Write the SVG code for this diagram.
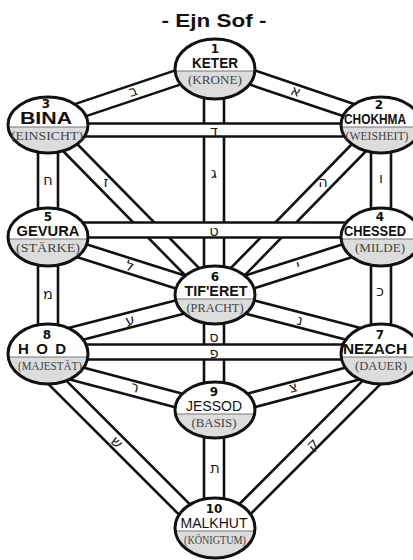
<svg xmlns="http://www.w3.org/2000/svg" width="413" height="560" viewBox="0 0 413 560">
<style>
.vb{stroke:#111;stroke-width:22.6;fill:none}
.vw{stroke:#fff;stroke-width:17.4;fill:none}
.db{stroke:#111;stroke-width:17.6;fill:none}
.dw{stroke:#fff;stroke-width:12.4;fill:none}
.heb{font-family:"DejaVu Sans",sans-serif;font-size:14.5px;fill:#1a1a1a;text-anchor:middle;dominant-baseline:central}
.nw{fill:#fff;stroke:none}
.ng{fill:#dcdcdc;stroke:none}
.nd{stroke:#777;stroke-width:1.2}
.no{fill:none;stroke:#111;stroke-width:3}
.num{font-family:"DejaVu Sans",sans-serif;font-weight:bold;font-size:12px;fill:#111;text-anchor:middle}
.name{font-family:"Liberation Sans",sans-serif;font-weight:bold;font-size:14px;fill:#111;text-anchor:middle}
.sub{font-family:"Liberation Serif",serif;font-size:11.5px;fill:#444;text-anchor:middle}
.title{font-family:"Liberation Sans",sans-serif;font-weight:bold;font-size:19px;fill:#111;text-anchor:middle}
</style>
<rect width="413" height="560" fill="#fff"/>
<text class="title" x="214" y="27" textLength="105" lengthAdjust="spacingAndGlyphs">- Ejn Sof -</text>
<g id="connectors">
 <g id="bars-black">
  <line class="vb" x1="214" y1="69" x2="214" y2="295"/>
  <line class="vb" x1="214" y1="295" x2="214" y2="410"/>
  <line class="vb" x1="214" y1="410" x2="214" y2="528"/>
  <line class="vb" x1="48" y1="125" x2="48" y2="237"/>
  <line class="vb" x1="48" y1="237" x2="48" y2="354"/>
  <line class="vb" x1="381" y1="125" x2="381" y2="237"/>
  <line class="vb" x1="381" y1="237" x2="381" y2="354"/>
  <line class="db" x1="215" y1="65" x2="48" y2="121"/>
  <line class="db" x1="215" y1="65" x2="381" y2="121"/>
  <line class="db" x1="48" y1="125" x2="215" y2="295"/>
  <line class="db" x1="381" y1="125" x2="215" y2="295"/>
  <line class="db" x1="48" y1="240" x2="215" y2="293"/>
  <line class="db" x1="381" y1="240" x2="215" y2="293"/>
  <line class="db" x1="48" y1="341" x2="215" y2="298"/>
  <line class="db" x1="381" y1="341" x2="215" y2="298"/>
  <line class="db" x1="48" y1="366" x2="215" y2="410"/>
  <line class="db" x1="381" y1="366" x2="215" y2="410"/>
  <line class="db" x1="35" y1="360" x2="200" y2="525"/>
  <line class="db" x1="394" y1="360" x2="229" y2="525"/>
 </g>
 <g id="bars-white">
  <line class="vw" x1="214" y1="69" x2="214" y2="295"/>
  <line class="vw" x1="214" y1="295" x2="214" y2="410"/>
  <line class="vw" x1="214" y1="410" x2="214" y2="528"/>
  <line class="vw" x1="48" y1="125" x2="48" y2="237"/>
  <line class="vw" x1="48" y1="237" x2="48" y2="354"/>
  <line class="vw" x1="381" y1="125" x2="381" y2="237"/>
  <line class="vw" x1="381" y1="237" x2="381" y2="354"/>
  <line class="dw" x1="215" y1="65" x2="48" y2="121"/>
  <line class="dw" x1="215" y1="65" x2="381" y2="121"/>
  <line class="dw" x1="48" y1="125" x2="215" y2="295"/>
  <line class="dw" x1="381" y1="125" x2="215" y2="295"/>
  <line class="dw" x1="48" y1="240" x2="215" y2="293"/>
  <line class="dw" x1="381" y1="240" x2="215" y2="293"/>
  <line class="dw" x1="48" y1="341" x2="215" y2="298"/>
  <line class="dw" x1="381" y1="341" x2="215" y2="298"/>
  <line class="dw" x1="48" y1="366" x2="215" y2="410"/>
  <line class="dw" x1="381" y1="366" x2="215" y2="410"/>
  <line class="dw" x1="35" y1="360" x2="200" y2="525"/>
  <line class="dw" x1="394" y1="360" x2="229" y2="525"/>
 </g>
 <g id="bars-horizontal">
  <line class="db" x1="48" y1="130" x2="381" y2="130" style="stroke-width:15.6"/>
  <line class="dw" x1="48" y1="130" x2="381" y2="130" style="stroke-width:10.4"/>
  <line class="db" x1="48" y1="230" x2="381" y2="230"/>
  <line class="dw" x1="48" y1="230" x2="381" y2="230"/>
  <line class="db" x1="48" y1="352" x2="381" y2="352"/>
  <line class="dw" x1="48" y1="352" x2="381" y2="352"/>
 </g>
 <g id="path-letters">
  <text class="heb" transform="translate(133,91) rotate(-18)">ב</text>
  <text class="heb" transform="translate(296,91) rotate(18)">א</text>
  <text class="heb" x="214" y="131">ד</text>
  <text class="heb" x="214" y="173">ג</text>
  <text class="heb" x="106" y="182">ז</text>
  <text class="heb" x="323" y="182">ה</text>
  <text class="heb" x="48" y="180">ח</text>
  <text class="heb" x="381" y="178">ו</text>
  <text class="heb" x="214" y="231">ט</text>
  <text class="heb" transform="translate(130,266) rotate(17)">ל</text>
  <text class="heb" transform="translate(298,265) rotate(-17)">י</text>
  <text class="heb" x="48" y="294">מ</text>
  <text class="heb" x="380" y="291">כ</text>
  <text class="heb" transform="translate(130,320) rotate(-14)">ע</text>
  <text class="heb" transform="translate(300,320) rotate(14)">נ</text>
  <text class="heb" x="214" y="337">ס</text>
  <text class="heb" x="214" y="353">פ</text>
  <text class="heb" transform="translate(135,387) rotate(15)">ר</text>
  <text class="heb" transform="translate(293,387) rotate(-15)">צ</text>
  <text class="heb" transform="translate(117,442) rotate(45)">ש</text>
  <text class="heb" transform="translate(312,444) rotate(-45)">ק</text>
  <text class="heb" x="215" y="468">ת</text>
 </g>
</g>
<g id="keter">
 <ellipse class="nw" cx="215" cy="69" rx="40" ry="30"/>
 <path class="ng" d="M175.09,71 A40,30 0 0 0 254.91,71 Z"/>
 <line class="nd" x1="175.09" y1="71" x2="254.91" y2="71"/>
 <ellipse class="no" cx="215" cy="69" rx="40" ry="30"/>
 <text class="num" x="215" y="52.5">1</text>
 <text class="name" x="215" y="68" textLength="46" lengthAdjust="spacingAndGlyphs">KETER</text>
 <text class="sub" x="215" y="83.5" textLength="54" lengthAdjust="spacingAndGlyphs">(KRONE)</text>
</g>
<g id="bina">
 <ellipse class="nw" cx="48" cy="125" rx="40" ry="28"/>
 <path class="ng" d="M8.1,127 A40,28 0 0 0 87.9,127 Z"/>
 <line class="nd" x1="8.1" y1="127" x2="87.9" y2="127"/>
 <ellipse class="no" cx="48" cy="125" rx="40" ry="28"/>
 <text class="num" x="46" y="107.5">3</text>
 <text class="name" x="46" y="124" style="font-size:16px" textLength="52" lengthAdjust="spacingAndGlyphs">BINA</text>
 <text class="sub" x="47" y="139.5" textLength="72" lengthAdjust="spacingAndGlyphs">(EINSICHT)</text>
</g>
<g id="chokhma">
 <ellipse class="nw" cx="381" cy="125" rx="40" ry="28"/>
 <path class="ng" d="M341.1,127 A40,28 0 0 0 420.9,127 Z"/>
 <line class="nd" x1="341.1" y1="127" x2="420.9" y2="127"/>
 <ellipse class="no" cx="381" cy="125" rx="40" ry="28"/>
 <text class="num" x="379" y="108.5">2</text>
 <text class="name" x="375" y="124" textLength="62" lengthAdjust="spacingAndGlyphs">CHOKHMA</text>
 <text class="sub" x="377" y="139.5" textLength="63" lengthAdjust="spacingAndGlyphs">(WEISHEIT)</text>
</g>
<g id="gevura">
 <ellipse class="nw" cx="48" cy="237" rx="40" ry="29"/>
 <path class="ng" d="M8.1,239 A40,29 0 0 0 87.9,239 Z"/>
 <line class="nd" x1="8.1" y1="239" x2="87.9" y2="239"/>
 <ellipse class="no" cx="48" cy="237" rx="40" ry="29"/>
 <text class="num" x="48" y="220.5">5</text>
 <text class="name" x="48" y="236" style="font-size:15px" textLength="63" lengthAdjust="spacingAndGlyphs">GEVURA</text>
 <text class="sub" x="48" y="251.5" textLength="64" lengthAdjust="spacingAndGlyphs">(STÄRKE)</text>
</g>
<g id="chessed">
 <ellipse class="nw" cx="381" cy="237" rx="40" ry="29"/>
 <path class="ng" d="M341.1,239 A40,29 0 0 0 420.9,239 Z"/>
 <line class="nd" x1="341.1" y1="239" x2="420.9" y2="239"/>
 <ellipse class="no" cx="381" cy="237" rx="40" ry="29"/>
 <text class="num" x="380" y="220.5">4</text>
 <text class="name" x="375" y="236" style="font-size:15px" textLength="62" lengthAdjust="spacingAndGlyphs">CHESSED</text>
 <text class="sub" x="380" y="251.5" textLength="50" lengthAdjust="spacingAndGlyphs">(MILDE)</text>
</g>
<g id="tiferet">
 <ellipse class="nw" cx="215" cy="295" rx="40" ry="29"/>
 <path class="ng" d="M175.38,299 A40,29 0 0 0 254.62,299 Z"/>
 <line class="nd" x1="175.38" y1="299" x2="254.62" y2="299"/>
 <ellipse class="no" cx="215" cy="295" rx="40" ry="29"/>
 <text class="num" x="215" y="280.5">6</text>
 <text class="name" x="216" y="296" textLength="63" lengthAdjust="spacingAndGlyphs">TIF'ERET</text>
 <text class="sub" x="215" y="311.5" textLength="57" lengthAdjust="spacingAndGlyphs">(PRACHT)</text>
</g>
<g id="hod">
 <ellipse class="nw" cx="48" cy="354" rx="40" ry="30"/>
 <path class="ng" d="M8.2,357 A40,30 0 0 0 87.8,357 Z"/>
 <line class="nd" x1="8.2" y1="357" x2="87.8" y2="357"/>
 <ellipse class="no" cx="48" cy="354" rx="40" ry="30"/>
 <text class="num" x="47" y="338.5">8</text>
 <text class="name" x="45" y="354" style="font-size:15px;letter-spacing:6px" textLength="54" lengthAdjust="spacing">HOD</text>
 <text class="sub" x="50" y="369.5" textLength="64" lengthAdjust="spacingAndGlyphs">(MAJESTÄT)</text>
</g>
<g id="nezach">
 <ellipse class="nw" cx="381" cy="354" rx="40" ry="30"/>
 <path class="ng" d="M341.2,357 A40,30 0 0 0 420.8,357 Z"/>
 <line class="nd" x1="341.2" y1="357" x2="420.8" y2="357"/>
 <ellipse class="no" cx="381" cy="354" rx="40" ry="30"/>
 <text class="num" x="380" y="338.5">7</text>
 <text class="name" x="375" y="354" style="font-size:15px" textLength="64" lengthAdjust="spacingAndGlyphs">NEZACH</text>
 <text class="sub" x="381" y="369.5" textLength="52" lengthAdjust="spacingAndGlyphs">(DAUER)</text>
</g>
<g id="jessod">
 <ellipse class="nw" cx="215" cy="410" rx="40" ry="28"/>
 <path class="ng" d="M175.41,414 A40,28 0 0 0 254.59,414 Z"/>
 <line class="nd" x1="175.41" y1="414" x2="254.59" y2="414"/>
 <ellipse class="no" cx="215" cy="410" rx="40" ry="28"/>
 <text class="num" x="214" y="395.5">9</text>
 <text class="name" x="214" y="411" style="font-weight:normal" textLength="56" lengthAdjust="spacingAndGlyphs">JESSOD</text>
 <text class="sub" x="214" y="426.5" textLength="45" lengthAdjust="spacingAndGlyphs">(BASIS)</text>
</g>
<g id="malkhut">
 <ellipse class="nw" cx="215" cy="528" rx="40" ry="30"/>
 <path class="ng" d="M175.2,531 A40,30 0 0 0 254.8,531 Z"/>
 <line class="nd" x1="175.2" y1="531" x2="254.8" y2="531"/>
 <ellipse class="no" cx="215" cy="528" rx="40" ry="30"/>
 <text class="num" x="214" y="513">10</text>
 <text class="name" x="214" y="528" style="font-weight:normal" textLength="67" lengthAdjust="spacingAndGlyphs">MALKHUT</text>
 <text class="sub" x="215" y="543.5" textLength="62" lengthAdjust="spacingAndGlyphs">(KÖNIGTUM)</text>
</g>
</svg>
